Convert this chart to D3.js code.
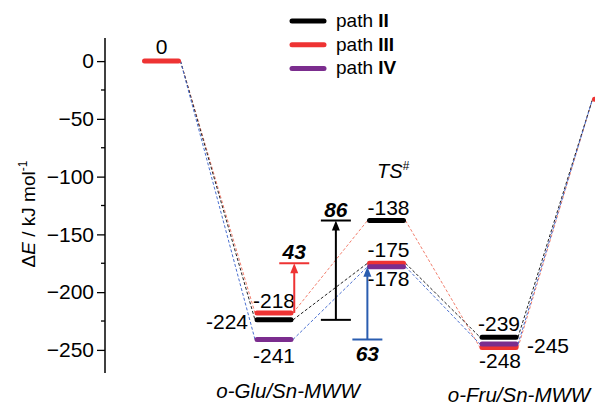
<!DOCTYPE html>
<html><head><meta charset="utf-8">
<script src="https://cdn.jsdelivr.net/npm/d3@7"></script>
<style>body{margin:0;background:#fff}svg{display:block}text{font-family:"Liberation Sans",Arial,sans-serif}</style>
</head><body><svg id="c" width="595" height="406"></svg>
<script>
// Data
const stages = ["start", "o-Glu/Sn-MWW", "TS#", "o-Fru/Sn-MWW", "end"];
const pathNames = ["II", "III", "IV"];
const pathColors = ["#000000", "#ee3333", "#7b2d8e"];
// energy levels per path at each stage (kJ/mol)
const pathII = [0, -224, -138, -239, -33];
const pathIII = [0, -218, -175, -248, -33];
const pathIV = [0, -241, -178, -245, -33];
const yTicks = [0, -50, -100, -150, -200, -250];
const yMinorTicks = [-25, -75, -125, -175, -225];
// dashed connectors as drawn: [stageFrom, valueFrom, stageTo, valueTo, colorKey]
const connectors = [
  [0, 0, 1, -218, "r"], [0, 0, 1, -224, "k"], [0, 0, 1, -241, "b"],
  [1, -218, 2, -138, "r"], [1, -224, 2, -175, "k"], [1, -241, 2, -178, "b"],
  [2, -138, 3, -248, "r"], [2, -175, 3, -239, "k"], [2, -178, 3, -245, "b"],
  [3, -248, 4, -33, "r"], [3, -239, 4, -33, "k"], [3, -245, 4, -33, "b"]
];
// barrier arrows
const barriers = [
  {x: 1.18, from: -218, to: -175, label: "43", color: "#ee3333", labelPos: "top", capTop: true, capBottom: false},
  {x: 1.55, from: -224, to: -138, label: "86", color: "#000000", labelPos: "top", capTop: true, capBottom: true},
  {x: 1.83, from: -241, to: -178, label: "63", color: "#2a5db0", labelPos: "bottom", capTop: false, capBottom: true}
];

const svg = d3.select("#c");
const y = d3.scaleLinear().domain([20, -270]).range([38, 373]);
const x = d3.scaleLinear().domain([0, 4]).range([161.5, 611.5]);
const half = 19;
const dashCol = {r: "#f2806f", k: "#222222", b: "#4a6fd0"};

// axis
const axis = d3.axisLeft(y).tickValues(yTicks).tickSize(8).tickPadding(3).tickFormat(d3.format("d"));
const ax = svg.append("g").attr("transform", "translate(105,0)").call(axis);
ax.select(".domain").attr("d", `M0,${y(20)}V${y(-270)}`).attr("stroke-width", 1.5);
ax.selectAll(".tick line").attr("stroke-width", 1.3);
ax.selectAll(".tick text").style("font-size", "21px").attr("fill", "#000");
ax.selectAll(".minor").data(yMinorTicks).enter().append("line")
  .attr("x1", -4).attr("x2", 0).attr("y1", d => y(d)).attr("y2", d => y(d))
  .attr("stroke", "#000").attr("stroke-width", 1.3);

// y label
const yl = svg.append("text").attr("transform", "translate(35,214) rotate(-90)")
  .attr("text-anchor", "middle").style("font-size", "19px");
yl.append("tspan").text("Δ");
yl.append("tspan").attr("font-style", "italic").text("E");
yl.append("tspan").text(" / kJ mol");
yl.append("tspan").attr("dy", -8).style("font-size", "12px").text("-1");

// connectors
svg.append("g").selectAll("line").data(connectors).enter().append("line")
  .attr("x1", d => x(d[0]) + half).attr("y1", d => y(d[1]))
  .attr("x2", d => x(d[2]) - half).attr("y2", d => y(d[3]))
  .attr("stroke", d => dashCol[d[4]]).attr("stroke-width", 1)
  .attr("stroke-dasharray", "3,2");

// levels
const paths = [pathII, pathIII, pathIV];
const levels = [];
paths.forEach((p, i) => p.forEach((v, s) => { if (s > 0 && s < 4) levels.push({s, v, c: pathColors[i]}); }));
levels.push({s: 0, v: pathIII[0], c: pathColors[1]});
levels.push({s: 4, v: pathIII[4], c: pathColors[1]});
svg.append("g").selectAll("line").data(levels).enter().append("line")
  .attr("x1", d => x(d.s) - half + 2).attr("x2", d => x(d.s) + half - 2)
  .attr("y1", d => y(d.v)).attr("y2", d => y(d.v))
  .attr("stroke", d => d.c).attr("stroke-width", 5).attr("stroke-linecap", "round");

// value labels
const valLabels = [
  {s: 0, v: 0, dx: 0, dy: -7, a: "middle", t: "0"},
  {s: 1, v: -218, dx: 0, dy: -5, a: "middle", t: "-218"},
  {s: 1, v: -224, dx: -26, dy: 9, a: "end", t: "-224"},
  {s: 1, v: -241, dx: 0, dy: 23, a: "middle", t: "-241"},
  {s: 2, v: -138, dx: 2, dy: -6, a: "middle", t: "-138"},
  {s: 2, v: -175, dx: 2, dy: -6, a: "middle", t: "-175"},
  {s: 2, v: -178, dx: 2, dy: 19, a: "middle", t: "-178"},
  {s: 3, v: -239, dx: 0, dy: -6, a: "middle", t: "-239"},
  {s: 3, v: -245, dx: 28, dy: 9, a: "start", t: "-245"},
  {s: 3, v: -248, dx: 1, dy: 20, a: "middle", t: "-248"}
];
svg.append("g").selectAll("text").data(valLabels).enter().append("text")
  .attr("x", d => x(d.s) + d.dx).attr("y", d => y(d.v) + d.dy)
  .attr("text-anchor", d => d.a).style("font-size", "21px").text(d => d.t);

// barrier arrows
const bg = svg.append("g");
barriers.forEach(b => {
  const bx = x(b.x);
  const yt = y(b.to), yb = y(b.from);
  if (b.capTop) bg.append("line").attr("x1", bx - 15).attr("x2", bx + 15).attr("y1", yt).attr("y2", yt).attr("stroke", b.color).attr("stroke-width", 2);
  if (b.capBottom) bg.append("line").attr("x1", bx - 15).attr("x2", bx + 15).attr("y1", yb).attr("y2", yb).attr("stroke", b.color).attr("stroke-width", 2);
  bg.append("line").attr("x1", bx).attr("x2", bx).attr("y1", yb).attr("y2", yt + 8).attr("stroke", b.color).attr("stroke-width", 2);
  bg.append("path").attr("d", `M${bx},${yt}L${bx - 4},${yt + 10}L${bx + 4},${yt + 10}Z`).attr("fill", b.color);
  bg.append("text").attr("x", bx).attr("y", b.labelPos === "top" ? yt - 4 : yb + 21)
    .attr("text-anchor", "middle").style("font-size", "21px").attr("font-weight", "bold").attr("font-style", "italic")
    .text(b.label);
});

// TS label
const ts = svg.append("text").attr("x", 377).attr("y", 178).style("font-size", "20px").attr("font-style", "italic");
ts.append("tspan").text("TS");
ts.append("tspan").attr("dy", -8).style("font-size", "12px").text("#");

// category labels
svg.append("text").attr("x", 288).attr("y", 398).attr("text-anchor", "middle").attr("font-style", "italic").style("font-size", "20.5px").text(stages[1]);
svg.append("text").attr("x", 519).attr("y", 402).attr("text-anchor", "middle").attr("font-style", "italic").style("font-size", "20.5px").text(stages[3]);

// legend
const lg = svg.append("g");
pathNames.forEach((n, i) => {
  const ly = 21 + i * 23.7;
  lg.append("line").attr("x1", 292).attr("x2", 324).attr("y1", ly).attr("y2", ly)
    .attr("stroke", pathColors[i]).attr("stroke-width", 5).attr("stroke-linecap", "round");
  const t = lg.append("text").attr("x", 336).attr("y", ly + 6).style("font-size", "19px");
  t.append("tspan").text("path ");
  t.append("tspan").attr("font-weight", "bold").text(n);
});
</script></body></html>
